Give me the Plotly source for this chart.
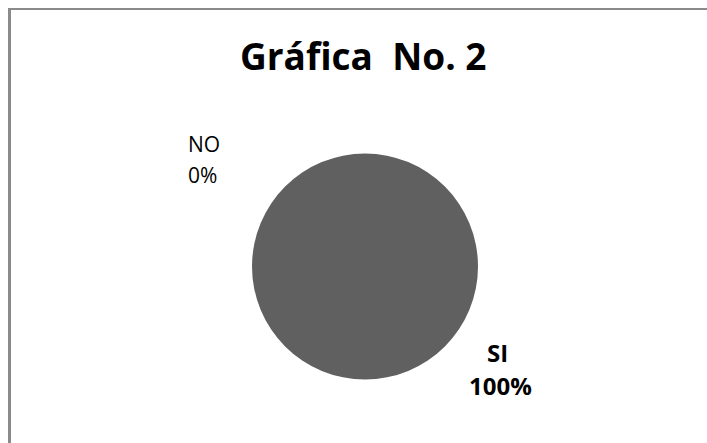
import plotly.graph_objects as go

# Survey answers and their share of responses (%)
labels = ["SI", "NO"]
values = [100, 0]
colors = ["#606060", "#a0a0a0"]
title_text = "Gráfica\u00a0 No. 2"

W, H = 707, 443
FAMILY = "'Open Sans', Lato, sans-serif"


def px(x):
    return x / W


def py(y):
    return 1 - y / H


fig = go.Figure(
    go.Pie(
        labels=labels,
        values=values,
        sort=False,
        direction="clockwise",
        rotation=0,
        textinfo="none",
        hoverinfo="label+percent",
        marker=dict(colors=colors, line=dict(width=0)),
        domain=dict(x=[px(252), px(478)], y=[py(379.5), py(153.5)]),
        showlegend=False,
    )
)

total = sum(values)
pct = {lab: round(v * 100 / total) for lab, v in zip(labels, values)}

font_reg = dict(family=FAMILY, size=21, color="#000000")
font_bold = dict(family=FAMILY, size=24, color="#000000")

annotations = [
    # NO label (regular weight)
    dict(text="NO", x=px(186), y=py(144.5), xanchor="left", yanchor="middle", font=font_reg),
    dict(text=f"{pct['NO']}%", x=px(186), y=py(174.5), xanchor="left", yanchor="middle", font=font_reg),
    # SI label (bold)
    dict(text="<b>SI</b>", x=px(497.5), y=py(352.5), xanchor="center", yanchor="middle", font=font_bold),
    dict(text=f"<b>{pct['SI']}%</b>", x=px(500.5), y=py(385.5), xanchor="center", yanchor="middle", font=font_bold),
    # Title
    dict(text=f"<b>{title_text}</b>", x=px(363), y=py(55.5), xanchor="center", yanchor="middle",
         font=dict(family=FAMILY, size=37, color="#000000")),
]
for a in annotations:
    a.update(xref="paper", yref="paper", showarrow=False)

shapes = [
    dict(type="line", xref="paper", yref="paper", x0=px(9.5), x1=px(9.5), y0=0, y1=py(8),
         line=dict(color="#8a8a8a", width=3)),
    dict(type="line", xref="paper", yref="paper", x0=px(8), x1=1, y0=py(9), y1=py(9),
         line=dict(color="#8a8a8a", width=2)),
]

fig.update_layout(
    width=W,
    height=H,
    margin=dict(l=0, r=0, t=0, b=0),
    paper_bgcolor="white",
    plot_bgcolor="white",
    annotations=annotations,
    shapes=shapes,
)

fig.write_html("out.html")
